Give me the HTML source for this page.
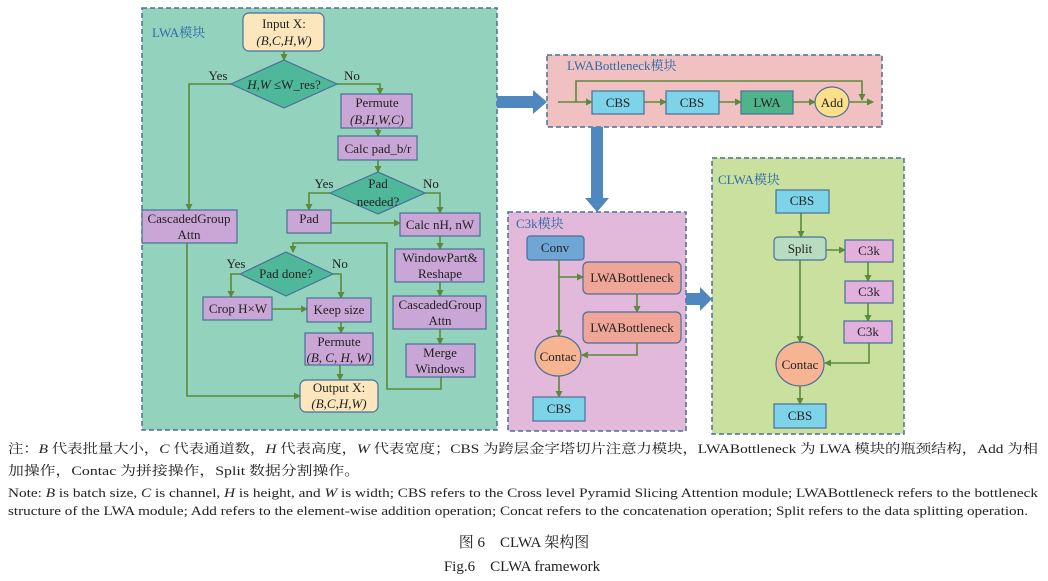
<!DOCTYPE html>
<html><head><meta charset="utf-8"><style>
body{margin:0;background:#fff;}
svg{display:block;}
text{font-family:"Liberation Serif","Noto Serif CJK SC",serif;fill:#222;}
.s{font-size:13px;}
.lab{font-size:13px;fill:#2f6aa8;}
</style></head><body>
<svg width="1048" height="581" viewBox="0 0 1048 581" xmlns="http://www.w3.org/2000/svg">
<defs>
<marker id="a" markerWidth="7" markerHeight="7" refX="6" refY="3.5" orient="auto" markerUnits="userSpaceOnUse"><path d="M0,0 L7,3.5 L0,7z" fill="#5a8a3a"/></marker>
</defs>
<g stroke="#4a6f9a" stroke-width="1.5" stroke-dasharray="5,3">
<rect x="142" y="8" width="355" height="422" fill="#93d3bd"/>
<rect x="547" y="55" width="335" height="72" fill="#f1c1c1"/>
<rect x="508" y="212" width="178" height="219" fill="#e2b9da"/>
<rect x="712" y="158" width="192" height="276" fill="#c9e09f"/>
</g>
<text x="152" y="37" class="lab">LWA模块</text>
<text x="567" y="70" class="lab">LWABottleneck模块</text>
<text x="516" y="228" class="lab">C3k模块</text>
<text x="718" y="184" class="lab">CLWA模块</text>
<!-- blue arrows -->
<g fill="#4f87c0">
<path d="M497,96 L533,96 L533,90 L547,102 L533,114 L533,108 L497,108z"/>
<path d="M591,127 L603,127 L603,198 L609,198 L597,212 L585,198 L591,198z"/>
<path d="M686,293 L700,293 L700,287 L712,299 L700,311 L700,305 L686,305z"/>
</g>
<!-- LWA connectors -->
<g stroke="#5a8a3a" stroke-width="1.6" fill="none">
<path d="M284,51 V60" marker-end="url(#a)"/>
<path d="M231,84 H189 V210" marker-end="url(#a)"/>
<path d="M337,84 H380 V94" marker-end="url(#a)"/>
<path d="M378,128 V136" marker-end="url(#a)"/>
<path d="M378,160 V172" marker-end="url(#a)"/>
<path d="M330,193 H309 V210" marker-end="url(#a)"/>
<path d="M425,193 H440 V213" marker-end="url(#a)"/>
<path d="M331,223 H400" marker-end="url(#a)"/>
<path d="M440,236 V249" marker-end="url(#a)"/>
<path d="M440,282 V296" marker-end="url(#a)"/>
<path d="M440,329 V344" marker-end="url(#a)"/>
<path d="M441,377 V389 H387 V243 H293 V252"/>
<path d="M293,246 V252" marker-end="url(#a)"/>
<path d="M240,274 H231 V297" marker-end="url(#a)"/>
<path d="M333,274 H341 V298" marker-end="url(#a)"/>
<path d="M272,309 H307" marker-end="url(#a)"/>
<path d="M341,322 V333" marker-end="url(#a)"/>
<path d="M340,365 V380" marker-end="url(#a)"/>
<path d="M187,243 V396 H300" marker-end="url(#a)"/>
<!-- bottleneck -->
<path d="M558,102 H592" marker-end="url(#a)"/>
<path d="M576,102 V81 H862 V100" marker-end="url(#a)"/>
<path d="M644,102 H666" marker-end="url(#a)"/>
<path d="M719,102 H741" marker-end="url(#a)"/>
<path d="M793,102 H815" marker-end="url(#a)"/>
<path d="M849,102 H873" marker-end="url(#a)"/>
<!-- C3k -->
<path d="M559,260 V336" marker-end="url(#a)"/>
<path d="M559,277 H583" marker-end="url(#a)"/>
<path d="M637,294 V312" marker-end="url(#a)"/>
<path d="M637,343 V355 H582" marker-end="url(#a)"/>
<path d="M559,376 V397" marker-end="url(#a)"/>
<!-- CLWA -->
<path d="M801,213 V237" marker-end="url(#a)"/>
<path d="M826,250 H845" marker-end="url(#a)"/>
<path d="M868,262 V281" marker-end="url(#a)"/>
<path d="M868,303 V321" marker-end="url(#a)"/>
<path d="M869,343 V363 H825" marker-end="url(#a)"/>
<path d="M800,260 V342" marker-end="url(#a)"/>
<path d="M800,386 V404" marker-end="url(#a)"/>
</g>
<!-- LWA nodes -->
<g stroke="#4a6f9a" stroke-width="1.2">
<rect x="243" y="13" width="81" height="38" rx="6" fill="#fbe6bd"/>
<polygon points="231,84 284,60 337,84 284,108" fill="#4fb89a"/>
<rect x="341" y="94" width="71" height="34" fill="#c9a6d6"/>
<rect x="338" y="136" width="79" height="24" fill="#c9a6d6"/>
<polygon points="330,193 378,172 425,193 378,214" fill="#4fb89a"/>
<rect x="142" y="210" width="95" height="33" fill="#c9a6d6"/>
<rect x="287" y="210" width="44" height="23" fill="#c9a6d6"/>
<rect x="400" y="213" width="80" height="23" fill="#c9a6d6"/>
<rect x="395" y="249" width="89" height="33" fill="#c9a6d6"/>
<rect x="393" y="296" width="93" height="33" fill="#c9a6d6"/>
<rect x="406" y="344" width="69" height="33" fill="#c9a6d6"/>
<polygon points="240,274 286,252 333,274 286,296" fill="#4fb89a"/>
<rect x="203" y="297" width="69" height="23" fill="#c9a6d6"/>
<rect x="307" y="298" width="64" height="24" fill="#c9a6d6"/>
<rect x="305" y="333" width="68" height="32" fill="#c9a6d6"/>
<rect x="300" y="380" width="78" height="32" rx="6" fill="#fbe6bd"/>
<!-- bottleneck -->
<rect x="592" y="91" width="52" height="23" fill="#7dd3e8"/>
<rect x="666" y="91" width="53" height="23" fill="#7dd3e8"/>
<rect x="741" y="91" width="52" height="23" fill="#4fb48a"/>
<ellipse cx="832" cy="102" rx="17" ry="15" fill="#fbe08c"/>
<!-- C3k -->
<rect x="527" y="236" width="57" height="24" rx="3" fill="#6fa6d6"/>
<rect x="583" y="262" width="98" height="32" rx="5" fill="#efa597"/>
<rect x="583" y="312" width="98" height="31" rx="5" fill="#efa597"/>
<ellipse cx="558" cy="356" rx="23" ry="20" fill="#f6b493"/>
<rect x="533" y="397" width="52" height="24" fill="#7dd3e8"/>
<!-- CLWA -->
<rect x="776" y="190" width="53" height="23" fill="#7dd3e8"/>
<rect x="774" y="237" width="52" height="23" rx="4" fill="#b7dcc0"/>
<rect x="845" y="240" width="48" height="22" fill="#e2b0dc"/>
<rect x="845" y="281" width="48" height="22" fill="#e2b0dc"/>
<rect x="844" y="321" width="48" height="22" fill="#e2b0dc"/>
<ellipse cx="800" cy="364" rx="24" ry="22" fill="#f6b493"/>
<rect x="774" y="404" width="52" height="24" fill="#7dd3e8"/>
</g>
<g class="s" text-anchor="middle">
<text x="284" y="28">Input X:</text>
<text x="284" y="45" font-style="italic">(B,C,H,W)</text>
<text x="284" y="89"><tspan font-style="italic">H,W</tspan> ≤W_res?</text>
<text x="218" y="80">Yes</text><text x="352" y="80">No</text>
<text x="377" y="107">Permute</text>
<text x="377" y="124" font-style="italic">(B,H,W,C)</text>
<text x="378" y="153">Calc pad_b/r</text>
<text x="378" y="188">Pad</text><text x="378" y="206">needed?</text>
<text x="324" y="188">Yes</text><text x="431" y="188">No</text>
<text x="189" y="223">CascadedGroup</text><text x="189" y="239">Attn</text>
<text x="309" y="223">Pad</text>
<text x="440" y="229">Calc nH, nW</text>
<text x="440" y="262">WindowPart&amp;</text><text x="440" y="278">Reshape</text>
<text x="440" y="309">CascadedGroup</text><text x="440" y="325">Attn</text>
<text x="440" y="357">Merge</text><text x="440" y="373">Windows</text>
<text x="286" y="278">Pad done?</text>
<text x="236" y="268">Yes</text><text x="340" y="268">No</text>
<text x="238" y="313">Crop H×W</text>
<text x="339" y="314">Keep size</text>
<text x="339" y="346">Permute</text>
<text x="339" y="362" font-style="italic">(B, C, H, W)</text>
<text x="339" y="392">Output X:</text>
<text x="339" y="408" font-style="italic">(B,C,H,W)</text>
<text x="618" y="107">CBS</text><text x="692" y="107">CBS</text>
<text x="767" y="107">LWA</text><text x="832" y="107">Add</text>
<text x="555" y="252">Conv</text>
<text x="632" y="282">LWABottleneck</text>
<text x="632" y="332">LWABottleneck</text>
<text x="558" y="361">Contac</text>
<text x="559" y="413">CBS</text>
<text x="802" y="205">CBS</text>
<text x="800" y="253">Split</text>
<text x="869" y="255">C3k</text><text x="869" y="296">C3k</text><text x="868" y="336">C3k</text>
<text x="800" y="369">Contac</text>
<text x="800" y="420">CBS</text>
</g>
<g font-size="13">
<text x="8" y="453" textLength="1030" lengthAdjust="spacingAndGlyphs">注：<tspan font-style="italic">B</tspan> 代表批量大小，<tspan font-style="italic">C</tspan> 代表通道数，<tspan font-style="italic">H</tspan> 代表高度，<tspan font-style="italic">W</tspan> 代表宽度；CBS 为跨层金字塔切片注意力模块，LWABottleneck 为 LWA 模块的瓶颈结构，Add 为相</text>
<text x="8" y="475" textLength="352" lengthAdjust="spacingAndGlyphs">加操作，Contac 为拼接操作，Split 数据分割操作。</text>
<text x="8" y="497" textLength="1030" lengthAdjust="spacingAndGlyphs">Note: <tspan font-style="italic">B</tspan> is batch size, <tspan font-style="italic">C</tspan> is channel, <tspan font-style="italic">H</tspan> is height, and <tspan font-style="italic">W</tspan> is width; CBS refers to the Cross level Pyramid Slicing Attention module; LWABottleneck refers to the bottleneck</text>
<text x="8" y="515" textLength="1020" lengthAdjust="spacingAndGlyphs">structure of the LWA module; Add refers to the element-wise addition operation; Concat refers to the concatenation operation; Split refers to the data splitting operation.</text>
<text x="524" y="547" text-anchor="middle" font-size="15">图 6　CLWA 架构图</text>
<text x="522" y="571" text-anchor="middle" font-size="15">Fig.6　CLWA framework</text>
</g>
</svg>
</body></html>
